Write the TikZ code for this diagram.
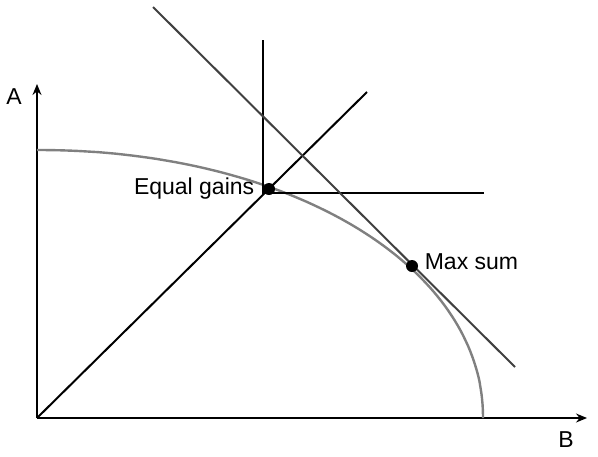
\documentclass[tikz,border=0pt]{standalone}
\usepackage{fontspec}
\setmainfont{Liberation Sans}
\usetikzlibrary{arrows.meta,positioning}
\tikzset{
  axis/.style    ={-{Stealth[length=5.5pt,width=4.5pt]},line width=0.7pt,draw=black},
  frontier/.style={draw=black!50,line width=1.2pt},
  guide/.style   ={draw=black,line width=1pt},
  tangent/.style ={draw=black!75,line width=1pt},
  dot/.style     ={circle,fill=black,inner sep=0pt,minimum size=6pt},
  lbl/.style     ={font=\fontsize{11.5}{13}\selectfont,inner sep=1pt}
}
\begin{document}
\begin{tikzpicture}[x=0.5pt,y=-0.5pt]
  \useasboundingbox (0,0) rectangle (598,456);
  % axes
  \coordinate (O) at (37,418);
  \coordinate (Atip) at (37,84);
  \coordinate (Btip) at (587,418);
  \draw[axis] (O) -- (Atip);
  \draw[axis] (O) -- (Btip);
  \node[lbl] (alab) at (14,97) {A};
  \node[lbl] (blab) at (566,440) {B};
  % frontier
  \draw[frontier] (37,150) -- plot[domain=89.5:0.5,samples=80]
    ({37+446*pow(cos(\x),2/2.05)},{418-268*pow(sin(\x),2/2.05)}) -- (483,418);
  % equal gains
  \coordinate (diagEnd) at (367,92);
  \draw[guide] (O) -- (diagEnd);
  \coordinate (vTop) at (263,40);
  \coordinate (hEnd) at (484,193);
  \draw[guide] (vTop) |- (hEnd);
  \node[dot] (eq) at (269,189) {};
  \node[lbl,left=3pt of eq] (eqlab) {Equal gains};
  % max sum
  \coordinate (tTop) at (153,7);
  \coordinate (tEnd) at (515,367);
  \draw[tangent] (tTop) -- (tEnd);
  \node[dot] (mx) at (412,266) {};
  \node[lbl,right=2pt of mx,yshift=2pt] (mxlab) {Max sum};
\end{tikzpicture}
\end{document}
